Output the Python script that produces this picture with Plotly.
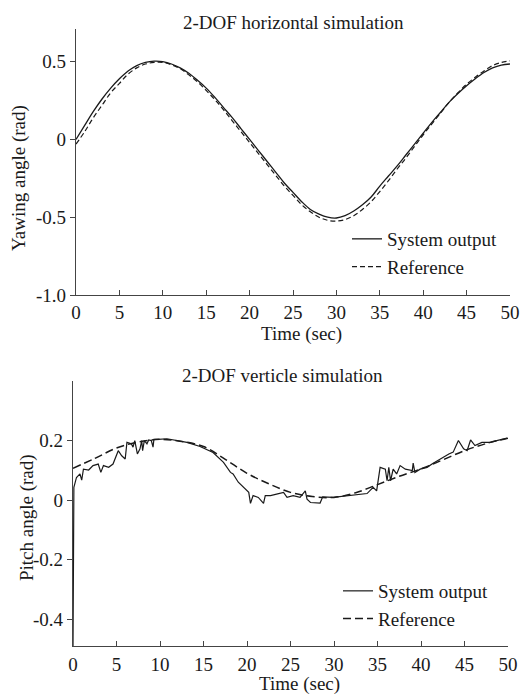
import plotly.graph_objects as go

# page (browser window) size and the default body margin of the html page
PAGE_W, PAGE_H = 531, 694
OFF = 8
W, H = PAGE_W - OFF, PAGE_H - OFF

# ---------------- data: top chart (yawing) ----------------
yaw_time = list(range(0, 51))
yaw_output = [0.0, 0.09, 0.18, 0.26, 0.33, 0.39, 0.44, 0.475, 0.495, 0.503, 0.50,
              0.485, 0.46, 0.425, 0.38, 0.33, 0.27, 0.205, 0.14, 0.07, 0.0,
              -0.07, -0.14, -0.21, -0.28, -0.34, -0.40, -0.45, -0.48, -0.50, -0.505,
              -0.49, -0.46, -0.42, -0.37, -0.30, -0.235, -0.17, -0.10, -0.03, 0.04,
              0.11, 0.175, 0.24, 0.295, 0.345, 0.39, 0.43, 0.46, 0.478, 0.485]
yaw_reference = [-0.03, 0.05, 0.14, 0.22, 0.30, 0.36, 0.42, 0.46, 0.485, 0.495, 0.495,
                 0.48, 0.455, 0.415, 0.37, 0.315, 0.255, 0.19, 0.12, 0.05, -0.02,
                 -0.09, -0.16, -0.23, -0.30, -0.36, -0.42, -0.465, -0.50, -0.52, -0.525,
                 -0.515, -0.49, -0.45, -0.40, -0.335, -0.265, -0.19, -0.12, -0.045, 0.03,
                 0.10, 0.17, 0.24, 0.30, 0.355, 0.40, 0.44, 0.475, 0.495, 0.505]

# ---------------- data: bottom chart (pitch) ----------------
pitch_ref_time = [0, 2.5, 5, 7.5, 10, 12.5, 15, 17.5, 20, 22.5, 25, 27.5, 30,
                  32.5, 35, 37.5, 40, 42.5, 45, 47.5, 50]
pitch_reference = [0.107, 0.14, 0.175, 0.195, 0.204, 0.197, 0.18, 0.137, 0.09, 0.055,
                   0.026, 0.012, 0.009, 0.025, 0.052, 0.08, 0.105, 0.135, 0.166, 0.19, 0.208]

pitch_out_time = [0, 0.05, 0.1, 0.4, 0.8, 1.0, 1.2, 1.8, 2.3, 2.9, 3.2, 3.5, 4.1, 4.6,
                  5.2, 5.6, 6.0, 6.2, 6.7, 6.9, 7.1, 7.4, 7.7, 7.9, 8.0, 8.2, 8.5, 8.7,
                  9.0, 9.2, 9.3, 9.8, 10.8, 13.1, 14.6, 16.1, 17.3, 18.1, 18.4, 19.0,
                  19.6, 20.2, 20.4, 20.7, 21.3, 21.9, 22.1, 22.7, 23.4, 24.2, 24.6,
                  25.3, 26.1, 26.7, 26.9, 27.3, 28.4, 28.7, 29.9, 31.9, 33.8, 34.5,
                  34.9, 35.3, 35.9, 36.1, 36.3, 36.5, 36.8, 37.2, 37.6, 38.2, 39.0,
                  39.1, 39.3, 39.9, 40.7, 41.4, 42.2, 42.6, 43.2, 43.7, 44.3, 44.9,
                  45.3, 45.7, 46.2, 47.0, 48.0, 48.7, 49.9]
pitch_output = [-0.5, 0.02, 0.043, 0.076, 0.088, 0.067, 0.104, 0.101, 0.116, 0.121,
                0.093, 0.116, 0.11, 0.121, 0.166, 0.149, 0.138, 0.194, 0.189, 0.178,
                0.2, 0.155, 0.172, 0.2, 0.166, 0.2, 0.189, 0.202, 0.2, 0.178, 0.204,
                0.204, 0.206, 0.194, 0.18, 0.16, 0.127, 0.093, 0.088, 0.06, 0.043,
                0.026, -0.011, 0.015, 0.009, -0.011, 0.015, 0.015, 0.02, 0.026, 0.009,
                0.015, 0.009, 0.031, 0.003, -0.008, -0.01, 0.011, 0.009, 0.015, 0.022,
                0.043, 0.031, 0.11, 0.104, 0.065, 0.11, 0.065, 0.104, 0.088, 0.116,
                0.104, 0.099, 0.124, 0.093, 0.104, 0.11, 0.124, 0.138, 0.144, 0.155,
                0.161, 0.2, 0.172, 0.166, 0.202, 0.183, 0.194, 0.194, 0.2, 0.208]

x_ticks = [0, 5, 10, 15, 20, 25, 30, 35, 40, 45, 50]
yaw_ticks = [0.5, 0, -0.5, -1.0]
yaw_tick_text = ["0.5", "0", "-0.5", "-1.0"]
pitch_ticks = [0.2, 0, -0.2, -0.4]
pitch_tick_text = ["0.2", "0", "-0.2", "-0.4"]

FONT = "Liberation Serif"
FS = 19
INK = "#1a1a1a"


def px(x):
    return (x - OFF) / W


def py(y):
    return 1 - (y - OFF) / H


fig = go.Figure()
fig.add_trace(go.Scatter(x=yaw_time, y=yaw_output, mode="lines", name="System output",
                         line=dict(color=INK, width=1.3, shape="spline"),
                         xaxis="x", yaxis="y", legend="legend"))
fig.add_trace(go.Scatter(x=yaw_time, y=yaw_reference, mode="lines", name="Reference",
                         line=dict(color=INK, width=1.2, shape="spline", dash="5px,3px"),
                         xaxis="x", yaxis="y", legend="legend"))
fig.add_trace(go.Scatter(x=pitch_out_time, y=pitch_output, mode="lines", name="System output",
                         line=dict(color=INK, width=1.2),
                         xaxis="x2", yaxis="y2", legend="legend2"))
fig.add_trace(go.Scatter(x=pitch_ref_time, y=pitch_reference, mode="lines", name="Reference",
                         line=dict(color=INK, width=1.5, shape="spline", dash="8px,4px"),
                         xaxis="x2", yaxis="y2", legend="legend2"))

axis_common = dict(showline=True, linecolor="#444", linewidth=1.3, showgrid=False,
                   zeroline=False, ticklen=5, tickwidth=1.2, tickcolor="#444",
                   automargin=False,
                   tickfont=dict(family=FONT, size=FS, color=INK))

fig.update_layout(
    template="none",
    width=W, height=H, margin=dict(l=0, r=0, t=0, b=0, pad=0),
    paper_bgcolor="white", plot_bgcolor="white",
    font=dict(family=FONT, size=FS, color=INK),
    xaxis=dict(domain=[px(76), px(510)], anchor="y", range=[0, 50], tickvals=x_ticks,
               ticks="inside", **axis_common),
    yaxis=dict(domain=[py(295), py(29)], anchor="x", range=[-1.0, 0.71], tickvals=yaw_ticks,
               ticktext=yaw_tick_text, ticks="outside", **axis_common),
    xaxis2=dict(domain=[px(73), px(508)], anchor="y2", range=[0, 50], tickvals=x_ticks,
                ticks="inside", ticklabelstandoff=1, **axis_common),
    yaxis2=dict(domain=[py(646), py(381)], anchor="x2", range=[-0.49, 0.4], tickvals=pitch_ticks,
                ticktext=pitch_tick_text, ticks="outside", **axis_common),
    legend=dict(x=px(347), y=py(220), xanchor="left", yanchor="top", bgcolor="rgba(0,0,0,0)",
                font=dict(family=FONT, size=FS, color=INK), tracegroupgap=0),
    legend2=dict(x=px(338), y=py(572), xanchor="left", yanchor="top", bgcolor="rgba(0,0,0,0)",
                 font=dict(family=FONT, size=FS, color=INK), tracegroupgap=0),
    showlegend=True,
)

ann = dict(showarrow=False, xref="paper", yref="paper", xanchor="center", yanchor="middle",
           font=dict(family=FONT, size=FS, color=INK))
fig.add_annotation(text="2-DOF horizontal simulation", x=px(293), y=py(23), **ann)
fig.add_annotation(text="Yawing angle (rad)", x=px(19), y=py(178), textangle=-90, **ann)
fig.add_annotation(text="Time (sec)", x=px(301), y=py(334), **ann)
fig.add_annotation(text="2-DOF verticle simulation", x=px(282), y=py(375), **ann)
fig.add_annotation(text="Pitch angle (rad)", x=px(27), y=py(518), textangle=-90, **ann)
fig.add_annotation(text="Time (sec)", x=px(299), y=py(684), **ann)

fig.write_html("out.html")
